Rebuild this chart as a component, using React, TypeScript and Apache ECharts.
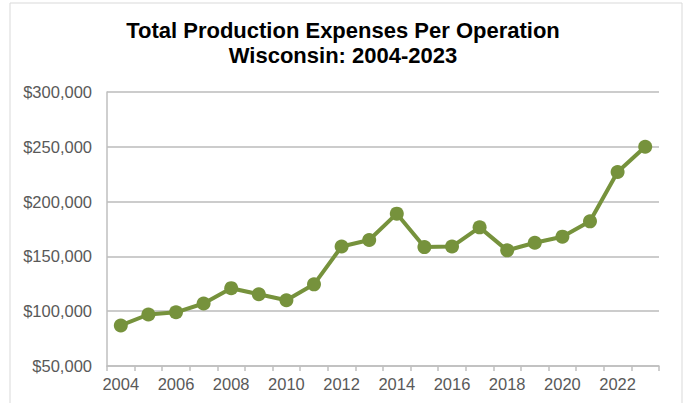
import React, { useEffect, useRef } from "react";
import * as echarts from "echarts";

const years = [
  "2004", "2005", "2006", "2007", "2008", "2009", "2010", "2011", "2012", "2013",
  "2014", "2015", "2016", "2017", "2018", "2019", "2020", "2021", "2022", "2023",
];
const expenses = [
  87000, 97000, 99000, 107000, 121000, 115500, 110000, 124500, 159000, 165000,
  189000, 158500, 159000, 176500, 155500, 162500, 168000, 182000, 227000, 250000,
];
const yMin = 50000;
const yMax = 300000;
const yStep = 50000;
const titleText = "Total Production Expenses Per Operation\nWisconsin: 2004-2023";

const FONT = "'Liberation Sans', Arial, sans-serif";

export default function App() {
  const ref = useRef<HTMLDivElement>(null);
  useEffect(() => {
    document.body.style.margin = "0";
    if (!ref.current) return;
    const chart = echarts.init(ref.current, undefined, { renderer: "svg" });
    chart.setOption({
      animation: false,
      backgroundColor: "#ffffff",
      title: {
        text: titleText,
        left: "center",
        top: 13,
        textStyle: {
          fontFamily: FONT,
          fontSize: 22,
          fontWeight: "bold",
          color: "#000000",
          lineHeight: 25,
        },
      },
      graphic: [
        {
          type: "rect",
          shape: { x: 10, y: 3, width: 672, height: 420 },
          style: { fill: "none", stroke: "#d9d9d9", lineWidth: 1 },
          silent: true,
        },
      ],
      grid: { left: 107, right: 27, top: 92, bottom: 37 },
      xAxis: {
        type: "category",
        data: years,
        boundaryGap: true,
        axisLine: { show: true, lineStyle: { color: "#bfbfbf", width: 1.5 } },
        axisTick: { show: true, interval: 0, length: 5, lineStyle: { color: "#bfbfbf", width: 1.5 } },
        axisLabel: {
          interval: 1,
          margin: 9,
          color: "#595959",
          fontFamily: FONT,
          fontSize: 16.5,
        },
        splitLine: { show: false },
      },
      yAxis: {
        type: "value",
        min: yMin,
        max: yMax,
        interval: yStep,
        axisLine: { show: true, lineStyle: { color: "#bfbfbf", width: 1.5 } },
        axisTick: { show: false },
        axisLabel: {
          margin: 15,
          color: "#595959",
          fontFamily: FONT,
          fontSize: 16.5,
          formatter: (v: number) => "$" + v.toLocaleString("en-US"),
        },
        splitLine: { show: true, lineStyle: { color: "#cccccc", width: 2 } },
      },
      series: [
        {
          type: "line",
          data: expenses,
          symbol: "circle",
          symbolSize: 14,
          lineStyle: { color: "#76923c", width: 4 },
          itemStyle: { color: "#76923c" },
        },
      ],
    });
    return () => chart.dispose();
  }, []);
  return <div ref={ref} style={{ width: 686, height: 403 }} />;
}
